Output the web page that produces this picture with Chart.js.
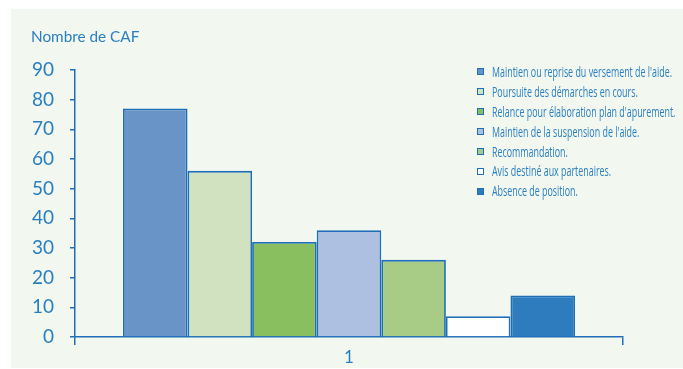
<!DOCTYPE html>
<html>
<head>
<meta charset="utf-8">
<script src="https://cdn.jsdelivr.net/npm/chart.js@4.4.1/dist/chart.umd.min.js"></script>
<style>
  html, body { margin: 0; padding: 0; background: #ffffff; }
  #wrap { position: relative; width: 683px; height: 369px; overflow: hidden; }
  #panel { position: absolute; left: 11px; top: 9px; width: 672px; height: 359px; background: #f2f7f0; }
  #box { position: absolute; left: 0; top: 0; width: 683px; height: 369px; }
  #ytitle { position: absolute; left: 31px; top: 27px; font-family: Lato, "Open Sans", sans-serif; font-size: 15.3px; color: #2a7fc0; white-space: nowrap; }
  #legend { position: absolute; left: 477px; top: 62px; font-family: "Open Sans", "DejaVu Sans", sans-serif; font-size: 14px; color: #2a7fc0; }
  #legend .row { height: 19.9px; line-height: 19.9px; white-space: nowrap; display: flex; align-items: center; }
  #legend .sw { width: 5px; height: 5px; border: 1.5px solid #1f6fb8; margin-right: 8px; flex: none; }
  #legend .tx { display: inline-block; transform-origin: 0 50%; }
</style>
</head>
<body>
<div id="wrap">
  <div id="panel"></div>
  <div id="box"><canvas id="chart"></canvas></div>
  <div id="ytitle">Nombre de CAF</div>
  <div id="legend"></div>
</div>
<script>
// Categories and series
const categories = ['1'];
const seriesNames = [
  "Maintien ou reprise du versement de l'aide.",
  "Poursuite des démarches en cours.",
  "Relance pour élaboration plan d'apurement.",
  "Maintien de la suspension de l'aide.",
  "Recommandation.",
  "Avis destiné aux partenaires.",
  "Absence de position."
];
const seriesValues = [77, 56, 32, 36, 26, 7, 14];
const seriesColors = ['#6894c8', '#d0e2bf', '#89bf5f', '#aec0e2', '#a8cb86', '#ffffff', '#2e7bbe'];
const yTicks = [0, 10, 20, 30, 40, 50, 60, 70, 80, 90];

const axisBlue = '#1f6fb8';
const textBlue = '#2a7fc0';
const tickFont = 'Lato, "Open Sans", sans-serif';

const datasets = seriesNames.map((name, i) => ({
  label: name,
  data: [seriesValues[i]],
  backgroundColor: seriesColors[i],
  borderColor: axisBlue,
  borderWidth: 1.8,
  borderSkipped: 'bottom'
}));

new Chart(document.getElementById('chart'), {
  type: 'bar',
  data: { labels: categories, datasets: datasets },
  options: {
    responsive: true,
    maintainAspectRatio: false,
    animation: false,
    layout: { padding: { left: 0, top: 70, right: 60, bottom: 0 } },
    datasets: { bar: { barPercentage: 1, categoryPercentage: 0.825 } },
    plugins: { legend: { display: false }, tooltip: { enabled: false } },
    scales: {
      x: {
        offset: true,
        grid: { display: true, drawOnChartArea: false, drawTicks: true, tickLength: 8, color: axisBlue, lineWidth: 1.5, offset: true },
        border: { display: true, color: axisBlue, width: 1.5 },
        ticks: { color: textBlue, font: { family: tickFont, size: 17 }, padding: 2 },
        afterFit: (scale) => { scale.height = 32; }
      },
      y: {
        min: 0,
        max: 90,
        afterBuildTicks: (scale) => { scale.ticks = yTicks.map(v => ({ value: v })); },
        grid: { display: true, drawOnChartArea: false, drawTicks: true, tickLength: 5, color: axisBlue, lineWidth: 1.5 },
        border: { display: true, color: axisBlue, width: 1.5 },
        ticks: { color: textBlue, font: { family: tickFont, size: 19 }, padding: 16 },
        afterFit: (scale) => { scale.width = 75; }
      }
    }
  }
});

// Legend built from the series, set in a condensed width
const legend = document.getElementById('legend');
const ctx = document.createElement('canvas').getContext('2d');
ctx.font = '14px "Open Sans", "DejaVu Sans", sans-serif';
const squeeze = 180 / ctx.measureText(seriesNames[0]).width;
seriesNames.forEach((name, i) => {
  const row = document.createElement('div');
  row.className = 'row';
  const sw = document.createElement('span');
  sw.className = 'sw';
  sw.style.background = seriesColors[i];
  const tx = document.createElement('span');
  tx.className = 'tx';
  tx.style.transform = 'scaleX(' + squeeze + ')';
  tx.textContent = name;
  row.appendChild(sw);
  row.appendChild(tx);
  legend.appendChild(row);
});
</script>
</body>
</html>
